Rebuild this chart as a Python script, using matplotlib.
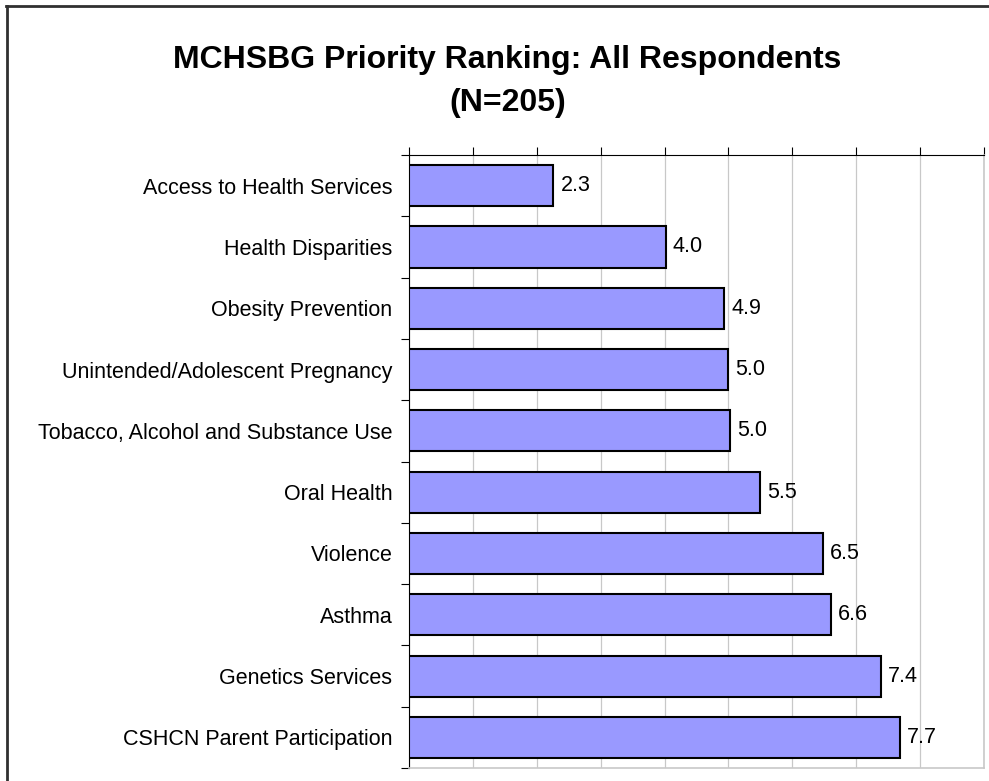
import matplotlib
matplotlib.use('Agg')
import matplotlib.pyplot as plt

plt.rcParams['font.family'] = ['Liberation Sans', 'DejaVu Sans']

# data
categories = ['Access to Health Services', 'Health Disparities', 'Obesity Prevention',
              'Unintended/Adolescent Pregnancy', 'Tobacco, Alcohol and Substance Use',
              'Oral Health', 'Violence', 'Asthma', 'Genetics Services',
              'CSHCN Parent Participation']
scores = [2.26, 4.02, 4.93, 5.0, 5.03, 5.49, 6.48, 6.6, 7.38, 7.68]
x_ticks = list(range(0, 10))

fig = plt.figure(figsize=(9.89, 7.81), dpi=100)
ax = fig.add_axes([0.4136, 0.0166, 0.5814, 0.7849])

pos = list(range(len(categories)))
ax.barh(pos, scores, height=0.67, color='#9999FF', edgecolor='black', linewidth=1.5, zorder=3)
for p, v in zip(pos, scores):
    ax.text(v + 0.11, p, f'{v:.1f}', va='center', ha='left', fontsize=15.5, zorder=4)

ax.set_xlim(0, 9)
ax.set_ylim(len(categories) - 0.5, -0.5)
ax.set_xticks(x_ticks)
ax.xaxis.tick_top()
ax.tick_params(axis='x', which='major', length=6, width=0.8, labeltop=False, labelbottom=False,
               direction='out', color='black')
ax.xaxis.grid(True, color='#C8C8C8', linewidth=0.9, zorder=0)

ax.set_yticks(pos)
ax.set_yticklabels(categories, fontsize=15.5)
ax.tick_params(axis='y', which='major', length=0, pad=12)
ax.set_yticks([p + 0.5 for p in pos[:-1]] + [-0.5, len(categories) - 0.5], minor=True)
ax.tick_params(axis='y', which='minor', length=6, width=0.8, direction='out')

ax.spines['top'].set_color('black')
ax.spines['left'].set_color('black')
ax.spines['right'].set_color('#C8C8C8')
ax.spines['bottom'].set_color('#C8C8C8')
ax.spines['right'].set_linewidth(1.2)
ax.spines['bottom'].set_linewidth(1.2)

fig.text(0.513, 0.923, 'MCHSBG Priority Ranking: All Respondents', ha='center', va='center',
         fontsize=23, fontweight='bold')
fig.text(0.513, 0.868, '(N=205)', ha='center', va='center', fontsize=23, fontweight='bold')

# outer frame, cut off at right and bottom like the original
fig.add_artist(plt.Line2D([0.007, 0.007], [0.0, 0.992], transform=fig.transFigure,
                          color='#303030', linewidth=2))
fig.add_artist(plt.Line2D([0.006, 1.0], [0.992, 0.992], transform=fig.transFigure,
                          color='#303030', linewidth=2))

fig.savefig('out.png', dpi=100)
